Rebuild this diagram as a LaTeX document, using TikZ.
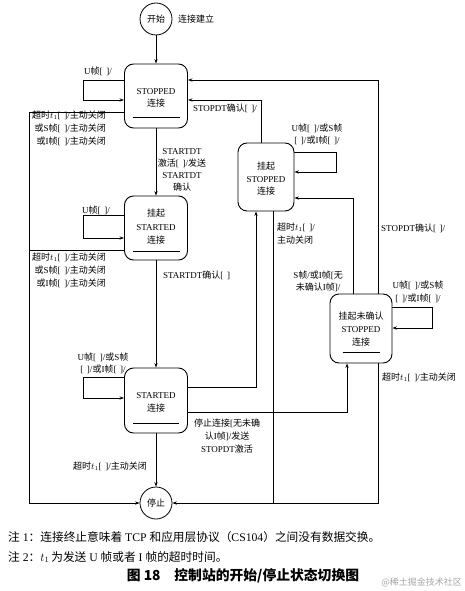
\documentclass[tikz,border=0pt]{standalone}
\usepackage{fontspec}
\setmainfont{Liberation Serif}
\newfontfamily\cjk{Noto Sans CJK SC}
\usetikzlibrary{arrows.meta}
\newcommand\zh[1]{{\cjk #1}}
\newcommand\bk{[\hspace{0.4em}]}
\newcommand\tops[1]{\rule{0pt}{#1pt}}
\begin{document}
\begin{tikzpicture}[x=1pt,y=-1pt,
  box/.style={draw,line width=0.9pt,rounded corners=9pt,align=center,inner sep=0pt},
  st/.style={draw,circle,line width=0.8pt,inner sep=0pt,minimum size=32pt,font=\fontsize{9}{11}\selectfont},
  con/.style={line width=0.6pt},
  arr/.style={con,-{Stealth[length=4.5pt,width=3.2pt]}},
  lab/.style={font=\fontsize{9}{12.5}\selectfont,inner sep=0pt,align=center},
]
\useasboundingbox (0,0) rectangle (465,591);

% states
\node[st] (start) at (156,19) {\zh{开始}};
\node[st] (stop) at (156,503) {\zh{停止}};
\node[box,minimum width=63pt,minimum height=64pt,font=\fontsize{9}{12}\selectfont] (stopped) at (156,96)
  {\tops{19.5}STOPPED\\\zh{连接}\\[-1pt]\rule{47pt}{0.6pt}};
\node[box,minimum width=63pt,minimum height=64pt,font=\fontsize{9}{13.5}\selectfont] (pstarted) at (156,228)
  {\tops{12}\zh{挂起}\\STARTED\\\zh{连接}\\[-5.5pt]\rule{47pt}{0.6pt}};
\node[box,minimum width=63pt,minimum height=65pt,font=\fontsize{9}{13}\selectfont] (started) at (156,400.5)
  {\tops{20.5}STARTED\\\zh{连接}\\[-1pt]\rule{46pt}{0.6pt}};
\node[box,minimum width=56pt,minimum height=68pt,font=\fontsize{9}{12.5}\selectfont] (pstopped) at (266,177)
  {\tops{11}\zh{挂起}\\STOPPED\\\zh{连接}};
\node[box,minimum width=62pt,minimum height=69pt,font=\fontsize{9}{13}\selectfont] (punack) at (361,328.5)
  {\tops{15}\zh{挂起未确认}\\STOPPED\\\zh{连接}\\[-6pt]\rule{37pt}{0.6pt}};

% connectors
\draw[arr] (start) -- (stopped);
\draw[arr] (stopped) -- (pstarted);
\draw[arr] (pstarted) -- (started);
\draw[arr] (started) -- (stop);

\draw[arr] (stopped.west |- 0,80) -- ++(-40.5,0) |- (stopped.west |- 0,100);
\draw[arr] (pstarted.west |- 0,215) -- ++(-40.5,0) |- (pstarted.west |- 0,238);
\draw[arr] (started.west |- 0,377) -- ++(-40.5,0) |- (started.west |- 0,398);

\coordinate (L) at (29,112);
\draw[arr] (stopped.west |- L) -- (L) |- (stop.west);
\draw[con] (pstarted.west |- 0,250) -- (L |- 0,250);

\draw[arr] ([xshift=17pt]punack.north) |- (stopped.east |- 0,80);
\draw[arr] ([xshift=-5pt]pstopped.north) |- (stopped.east |- 0,100);
\draw[arr] ([xshift=-8pt]punack.north) |- (pstopped.east |- 0,198);
\draw[arr] (pstopped.east |- 0,152) -- ++(42,0) |- (pstopped.east |- 0,172);
\draw[arr] (punack.east |- 0,307) -- ++(40,0) |- (punack.east |- 0,328);
\draw[arr] (started.east |- 0,387) -| ([xshift=-10pt]pstopped.south);
\draw[arr] (started.east |- 0,412) -| ([xshift=-14pt]punack.south);
\draw[con] ([xshift=7pt]pstopped.south) -- ([xshift=7pt]pstopped.south |- stop.east);
\draw[arr] ([xshift=17pt]punack.south) |- (stop.east);

% labels
\node[lab,anchor=west] (l0) at (178,19) {\zh{连接建立}};
\node[lab] (l1) at (98,71) {U\zh{帧}\bk/};
\node[lab,anchor=north east,align=right,font=\fontsize{9}{13}\selectfont] (l2) at (106,111)
  {\zh{超时}$t_1$\bk/\zh{主动关闭}\\\zh{或}S\zh{帧}\bk/\zh{主动关闭}\\\zh{或}I\zh{帧}\bk/\zh{主动关闭}};
\node[lab] (l3) at (225,108) {STOPDT\zh{确认}\bk/};
\node[lab,font=\fontsize{9}{12}\selectfont] (l4) at (182,170)
  {STARTDT\\\zh{激活}\bk/\zh{发送}\\STARTDT\\\zh{确认}};
\node[lab] (l5) at (96,210) {U\zh{帧}\bk/};
\node[lab,anchor=north east,align=right,font=\fontsize{9}{13}\selectfont] (l6) at (106,253)
  {\zh{超时}$t_1$\bk/\zh{主动关闭}\\\zh{或}S\zh{帧}\bk/\zh{主动关闭}\\\zh{或}I\zh{帧}\bk/\zh{主动关闭}};
\node[lab,anchor=west] (l7) at (163,275) {STARTDT\zh{确认}\bk};
\node[lab] (l8) at (103,363.5) {U\zh{帧}\bk/\zh{或}S\zh{帧}\\\bk/\zh{或}I\zh{帧}\bk/};
\node[lab] (l9) at (110,466) {\zh{超时}$t_1$\bk/\zh{主动关闭}};
\node[lab] (l10) at (317,134.5) {U\zh{帧}\bk/\zh{或}S\zh{帧}\\\bk/\zh{或}I\zh{帧}\bk/};
\node[lab,anchor=west] (l11) at (381,228) {STOPDT\zh{确认}\bk/};
\node[lab,anchor=north west,align=left] (l12) at (277,223) {\zh{超时}$t_1$\bk/\\\zh{主动关闭}};
\node[lab] (l13) at (318,281.5) {S\zh{帧}/\zh{或}I\zh{帧}[\zh{无}\\\zh{未确认}I\zh{帧}]/};
\node[lab] (l14) at (418,292) {U\zh{帧}\bk/\zh{或}S\zh{帧}\\\bk/\zh{或}I\zh{帧}\bk/};
\node[lab,anchor=west] (l15) at (382,377) {\zh{超时}$t_1$\bk/\zh{主动关闭}};
\node[lab,font=\fontsize{9}{13}\selectfont] (l16) at (227,436)
  {\zh{停止连接}[\zh{无未确}\\\zh{认}I\zh{帧}]/\zh{发送}\\STOPDT\zh{激活}};

% notes
\node[anchor=west,inner sep=0pt,font=\fontsize{11.7}{13}\selectfont] (n1) at (8,537)
  {\zh{注} 1\zh{：连接终止意味着} TCP \zh{和应用层协议（}CS104\zh{）之间没有数据交换。}};
\node[anchor=west,inner sep=0pt,font=\fontsize{11.7}{13}\selectfont] (n2) at (8,557)
  {\zh{注} 2\zh{：}$t_1$\,\zh{为发送} U \zh{帧或者} I \zh{帧的超时时间。}};
\node[inner sep=0pt,font=\fontsize{13.8}{15}\selectfont] (cap) at (243,576)
  {\cjk\bfseries 图 18\quad 控制站的开始/停止状态切换图};
\node[anchor=east,inner sep=0pt,text=black!35,font=\fontsize{9}{11}\selectfont] (wm) at (462,582)
  {\zh{@稀土掘金技术社区}};
\end{tikzpicture}
\end{document}
